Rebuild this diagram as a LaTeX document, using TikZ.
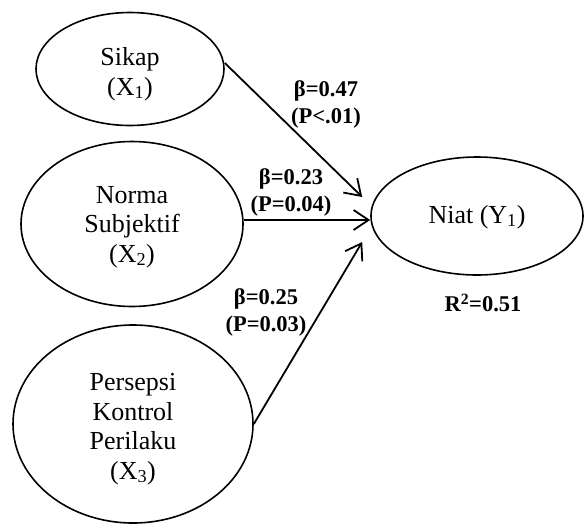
\documentclass[tikz,border=0pt]{standalone}
\usepackage{fontspec}
\setmainfont{Liberation Serif}
\usetikzlibrary{shapes.geometric,arrows.meta}
\begin{document}
\begin{tikzpicture}[x=1pt,y=-1pt,
  construct/.style={draw,ellipse,line width=1.6pt,inner sep=0pt},
  txt/.style={inner sep=0pt,align=center,font=\fontsize{26}{29.5}\selectfont},
  arr/.style={line width=1.8pt,-{Straight Barb[length=15pt,width=20pt,line width=1.8pt]}},
  coef/.style={font=\fontsize{22.5}{27}\selectfont\bfseries,align=center,inner sep=0pt}]
\useasboundingbox (0,0) rectangle (585,525);
\node[construct,minimum width=188pt,minimum height=113pt] (sikap) at (130,69) {};
\node[construct,minimum width=222pt,minimum height=165pt] (norma) at (132,224) {};
\node[construct,minimum width=240pt,minimum height=198pt] (persepsi) at (133,424) {};
\node[construct,minimum width=212pt,minimum height=118pt] (niat) at (477,216) {};
\node[txt] (sikapt) at ([yshift=-5pt]sikap.center) {Sikap\\(X\textsubscript{1})};
\node[txt] (normat) at ([yshift=-3pt]norma.center) {Norma\\Subjektif\\(X\textsubscript{2})};
\node[txt] (persepsit) at ([yshift=-5pt]persepsi.center) {Persepsi\\Kontrol\\Perilaku\\(X\textsubscript{3})};
\node[txt] (niatt) at ([yshift=-1pt]niat.center) {Niat (Y\textsubscript{1})};
\coordinate (t1) at ([xshift=-8pt,yshift=19pt]niat.west);
\coordinate (t2) at ([yshift=-4pt]niat.west);
\coordinate (t3) at ([xshift=-8pt,yshift=-26pt]niat.west);
\draw[arr] ([yshift=6pt]sikap.east) -- (t1);
\draw[arr] ([yshift=4pt]norma.east) -- (t2);
\draw[arr] (persepsi.east) -- (t3);
\node[coef] (c1) at (326,104) {β=0.47\\(P<.01)};
\node[coef] (c2) at (291,192) {β=0.23\\(P=0.04)};
\node[coef] (c3) at (266,312) {β=0.25\\(P=0.03)};
\node[coef] (r2) at (483,303) {R\textsuperscript{2}=0.51};
\end{tikzpicture}
\end{document}
